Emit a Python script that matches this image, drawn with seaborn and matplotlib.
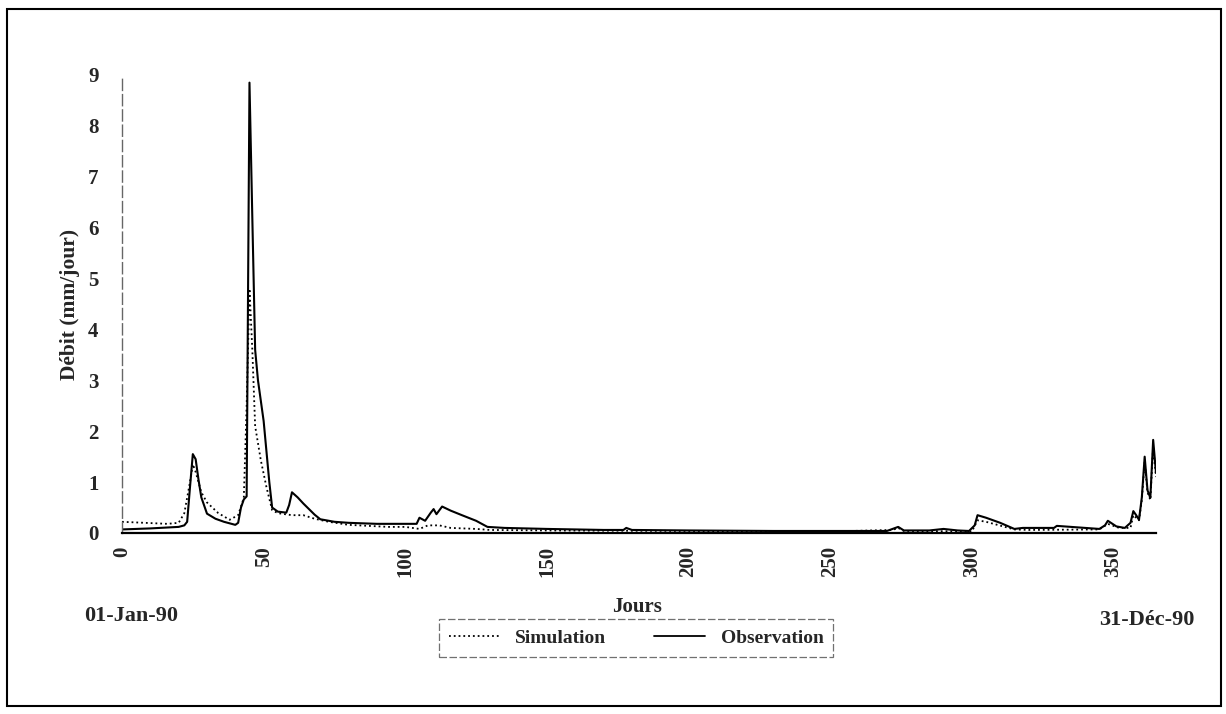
import numpy as np
import pandas as pd
import seaborn as sns
import matplotlib.pyplot as plt
from matplotlib.lines import Line2D
from matplotlib.patches import Rectangle

obs_days = [0, 10, 20, 22, 23, 24, 25, 26, 27, 28, 30, 33, 36, 40, 41, 42, 43, 44,
            45, 46, 47, 48, 50, 52, 53, 55, 58, 59, 60, 62, 64, 66, 68, 70, 75,
            80, 90, 100, 104, 105, 107, 109, 110, 111, 113, 116, 120, 125, 129,
            135, 150, 160, 170, 177, 178, 180, 200, 230, 250, 270, 272, 274, 276,
            285, 290, 295, 299, 301, 302, 305, 310, 315, 318, 325, 329, 330, 335,
            345, 347, 348, 351, 354, 356, 357, 358, 359, 360, 361, 362, 363, 364, 365]
obs_vals = [0.07, 0.09, 0.12, 0.15, 0.22, 0.9, 1.55, 1.45, 1.05, 0.7, 0.38, 0.28,
            0.22, 0.16, 0.2, 0.5, 0.66, 0.72, 8.85, 6.2, 3.6, 3.0, 2.2, 1.0, 0.5,
            0.42, 0.4, 0.55, 0.8, 0.7, 0.58, 0.47, 0.36, 0.27, 0.22, 0.2, 0.18,
            0.18, 0.18, 0.3, 0.24, 0.4, 0.47, 0.37, 0.52, 0.44, 0.35, 0.24, 0.12,
            0.1, 0.08, 0.07, 0.06, 0.06, 0.1, 0.06, 0.05, 0.04, 0.04, 0.04, 0.08,
            0.12, 0.05, 0.05, 0.08, 0.05, 0.04, 0.15, 0.35, 0.3, 0.2, 0.08, 0.1,
            0.1, 0.1, 0.14, 0.12, 0.08, 0.15, 0.24, 0.13, 0.1, 0.2, 0.43, 0.35, 0.26,
            0.7, 1.5, 0.84, 0.69, 1.83, 1.18]

# simulated discharge (mm/jour)
sim_days = [0, 8, 16, 20, 22, 24, 25, 26, 28, 30, 34, 38, 41, 43, 44, 45, 46, 47,
            49, 51, 53, 55, 60, 64, 68, 73, 80, 94, 100, 105, 108, 112, 116, 125,
            130, 150, 200, 250, 272, 274, 276, 300, 302, 305, 315, 320, 345, 348,
            352, 356, 357, 359, 360, 361, 362, 363, 364, 365]
sim_vals = [0.22, 0.2, 0.18, 0.2, 0.39, 1.0, 1.35, 1.2, 0.8, 0.6, 0.39, 0.26,
            0.35, 0.69, 2.5, 4.8, 3.6, 2.1, 1.43, 0.9, 0.45, 0.39, 0.35, 0.35,
            0.28, 0.22, 0.16, 0.12, 0.12, 0.08, 0.15, 0.15, 0.1, 0.08, 0.06,
            0.05, 0.04, 0.03, 0.06, 0.1, 0.04, 0.03, 0.25, 0.22, 0.07, 0.06,
            0.07, 0.18, 0.1, 0.1, 0.35, 0.25, 0.65, 1.4, 0.8, 0.65, 1.7, 1.1]

y_ticks = list(range(0, 10))
x_ticks = [0, 50, 100, 150, 200, 250, 300, 350]

obs = pd.DataFrame({"Jours": obs_days, "Debit": obs_vals})
sim = pd.DataFrame({"Jours": sim_days, "Debit": sim_vals})

sns.set_style("white")
plt.rcParams["font.family"] = ["Liberation Serif", "DejaVu Serif"]
plt.rcParams["font.weight"] = "bold"

W, H = 1226, 714
fig = plt.figure(figsize=(W / 100, H / 100), dpi=100)
ax = fig.add_axes([122 / W, 1 - 533 / H, (1156 - 122) / W, 458 / H])

sns.lineplot(data=sim, x="Jours", y="Debit", ax=ax, color="black",
             linestyle=":", linewidth=1.3, sort=False)
sns.lineplot(data=obs, x="Jours", y="Debit", ax=ax, color="black",
             linewidth=1.5, sort=False)

ax.set_xlim(0, 365)
ax.set_ylim(0, 9)
ax.set_xticks(x_ticks)
ax.set_yticks(y_ticks)
ax.set_xticklabels([str(t) for t in x_ticks], rotation=90, fontsize=15,
                   fontweight="bold")
ax.set_yticklabels([str(t) for t in y_ticks], fontsize=15, fontweight="bold")
ax.tick_params(axis="y", direction="inout", length=12, width=1, color="black", pad=11)
ax.tick_params(axis="x", direction="inout", length=7, width=1, color="black", pad=6)

for s in ["top", "right"]:
    ax.spines[s].set_visible(False)
ax.spines["left"].set_color("0.4")
ax.spines["left"].set_linestyle((0, (8, 3)))
ax.spines["left"].set_linewidth(1)
ax.spines["bottom"].set_color("black")
ax.spines["bottom"].set_linewidth(1.6)

ax.set_xlabel("")
ax.set_ylabel("Débit (mm/jour)", fontsize=15.5, fontweight="bold", labelpad=6)
fig.text(637 / W, 1 - 607 / H, "Jours", ha="center", va="center",
         fontsize=15, fontweight="bold")
fig.text(131 / W, 1 - 616 / H, "01-Jan-90", ha="center", va="center",
         fontsize=16, fontweight="bold")
fig.text(1147 / W, 1 - 620 / H, "31-Déc-90", ha="center", va="center",
         fontsize=16, fontweight="bold")

handles = [Line2D([], [], color="black", linestyle=":", linewidth=1.3),
           Line2D([], [], color="black", linewidth=1.3)]
leg = fig.legend(handles, ["Simulation", "Observation"], loc="center",
                 bbox_to_anchor=(636 / W, 1 - 638 / H), ncol=2,
                 frameon=True, fancybox=False, handlelength=2.6,
                 columnspacing=2.5, borderpad=0.5, prop={"weight": "bold", "size": 14})
leg.get_frame().set_edgecolor("0.3")
leg.get_frame().set_linestyle((0, (6, 2)))
leg.get_frame().set_linewidth(0.9)

fig.patches.append(Rectangle((7 / W, 1 - 706 / H), (1221 - 7) / W, (706 - 9) / H,
                             transform=fig.transFigure, fill=False,
                             edgecolor="black", linewidth=1.5))

fig.savefig("out.png", dpi=100)
